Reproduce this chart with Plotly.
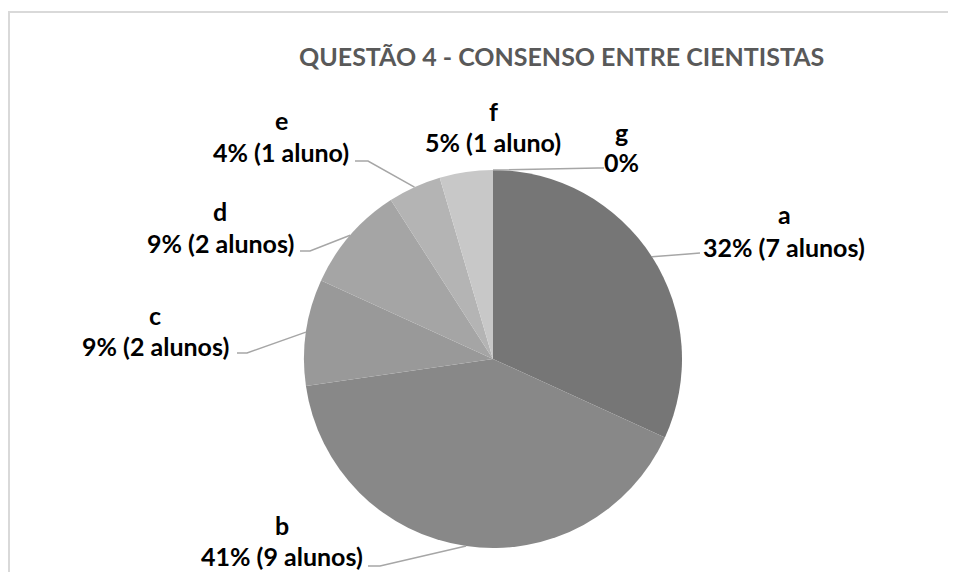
import math
import plotly.graph_objects as go

# ---- data ----
categories = ["a", "b", "c", "d", "e", "f", "g"]
students = [7, 9, 2, 2, 1, 1, 0]
pct_labels = ["32%", "41%", "9%", "9%", "4%", "5%", "0%"]
count_labels = ["(7 alunos)", "(9 alunos)", "(2 alunos)", "(2 alunos)", "(1 aluno)", "(1 aluno)", ""]
title_text = "QUESTÃO 4 - CONSENSO ENTRE CIENTISTAS"

# ---- style / layout ----
W, H = 940, 564   # fits inside the 956x580 window with the page's 8px body margin
OFF = 8
colors = ["#767676", "#888888", "#999999", "#a5a5a5", "#b4b4b4", "#c8c8c8", "#d6d6d6"]
CX, CY, R = 493, 359, 189  # pie centre / radius in screen pixels
FONT = "Lato"
LABEL_SIZE = 25

# label placement (screen pixels): centre x, line1 y, line2 y, leader elbow, leader end
label_pos = {
    "a": dict(x=784, y1=214, y2=247, elbow=(688, 254), end=(700, 253)),
    "b": dict(x=282, y1=525, y2=556, elbow=(380, 566), end=(368, 566)),
    "c": dict(x=155, y1=315, y2=346, elbow=(247, 353), end=(237, 353)),
    "d": dict(x=220, y1=211, y2=243, elbow=(310, 251), end=(300, 251)),
    "e": dict(x=281, y1=120, y2=152, elbow=(368, 161), end=(355, 161)),
    "f": dict(x=493, y1=111, y2=142, elbow=None, end=None),
    "g": dict(x=621, y1=132, y2=162, elbow=(598, 168), end=(604, 168)),
}


def px(x):
    return (x - OFF) / W


def py(y):
    return 1 - (y - OFF) / H


fig = go.Figure()
fig.add_trace(go.Pie(
    labels=categories,
    values=students,
    sort=False,
    direction="clockwise",
    rotation=0,
    marker=dict(colors=colors, line=dict(width=0)),
    textinfo="none",
    hoverinfo="label+value+percent",
    showlegend=False,
    domain=dict(x=[px(CX - R), px(CX + R)], y=[py(CY + R), py(CY - R)]),
))

annotations = []
shapes = []
total = sum(students)
cum = 0
for cat, v, p, c in zip(categories, students, pct_labels, count_labels):
    mid = (cum + v / 2) / total * 2 * math.pi
    cum += v
    ex = CX + R * math.sin(mid)
    ey = CY - R * math.cos(mid)
    lp = label_pos[cat]
    second = (p + " " + c).strip()
    annotations.append(dict(x=px(lp["x"]), y=py(lp["y1"]), xref="paper", yref="paper",
                            text="<b>" + cat + "</b>", showarrow=False,
                            xanchor="center", yanchor="middle",
                            font=dict(family=FONT, size=LABEL_SIZE, color="#000000")))
    annotations.append(dict(x=px(lp["x"]), y=py(lp["y2"]), xref="paper", yref="paper",
                            text="<b>" + second + "</b>", showarrow=False,
                            xanchor="center", yanchor="middle",
                            font=dict(family=FONT, size=LABEL_SIZE, color="#000000")))
    if lp["elbow"] is not None:
        (bx, by), (tx, ty) = lp["elbow"], lp["end"]
        path = "M {} {} L {} {} L {} {}".format(px(ex), py(ey), px(bx), py(by), px(tx), py(ty))
        shapes.append(dict(type="path", xref="paper", yref="paper", path=path,
                           line=dict(color="#a6a6a6", width=1.5)))

# frame (top and left edges only visible)
frame_style = dict(color="#d9d9d9", width=2)
shapes.append(dict(type="line", xref="paper", yref="paper",
                   x0=px(8), y0=py(12), x1=px(948), y1=py(12), line=frame_style, layer="below"))
shapes.append(dict(type="line", xref="paper", yref="paper",
                   x0=px(9), y0=py(11), x1=px(9), y1=py(572), line=frame_style, layer="below"))

annotations.append(dict(x=px(561), y=py(56), xref="paper", yref="paper",
                        text="<b>" + title_text + "</b>", showarrow=False,
                        xanchor="center", yanchor="middle",
                        font=dict(family=FONT, size=25, color="#595959")))

fig.update_layout(
    width=W, height=H,
    margin=dict(l=0, r=0, t=0, b=0),
    paper_bgcolor="#ffffff",
    plot_bgcolor="#ffffff",
    annotations=annotations,
    shapes=shapes,
    showlegend=False,
)

fig.write_html("out.html")
